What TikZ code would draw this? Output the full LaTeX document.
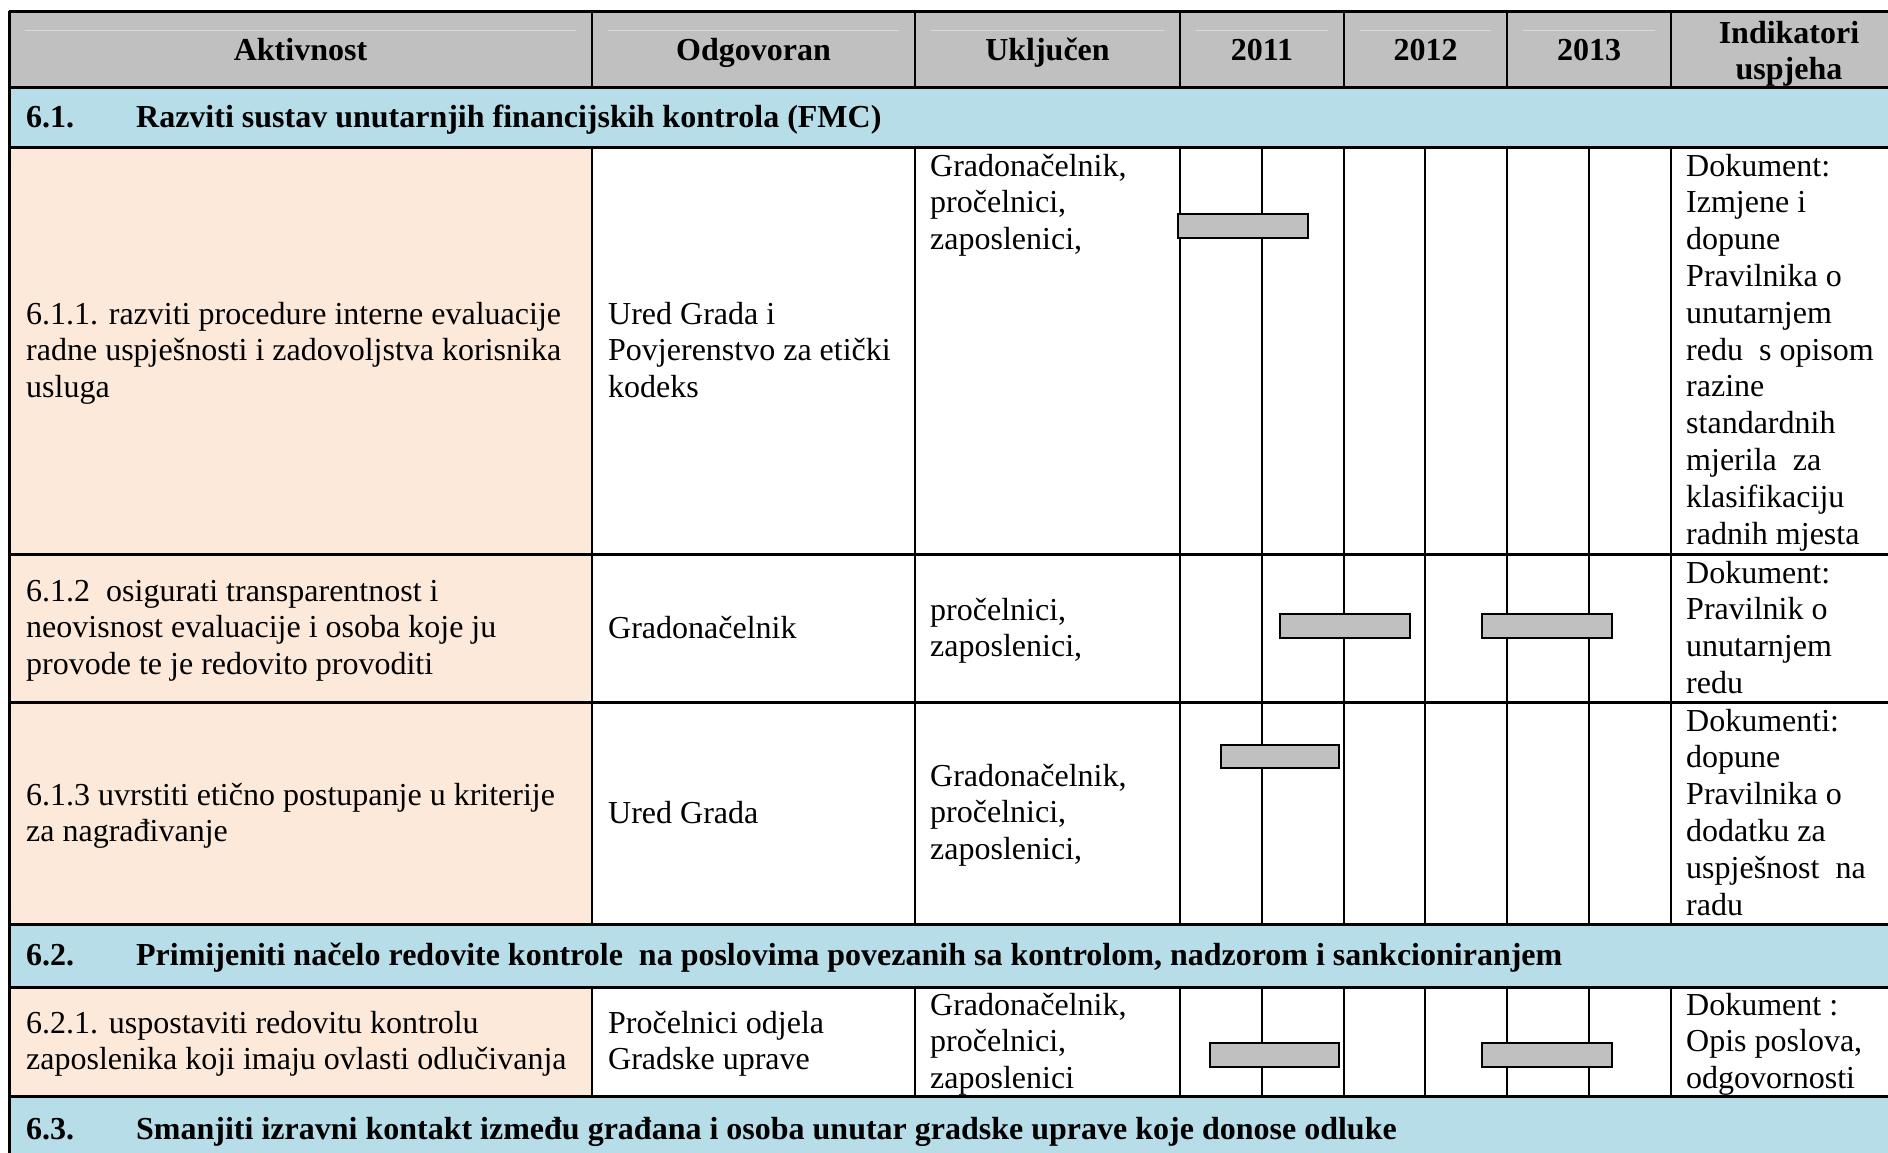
\documentclass[tikz,border=0pt]{standalone}
\usepackage{fontspec}
\setmainfont{Liberation Serif}
\definecolor{hdrfill}{HTML}{C0C0C0}
\definecolor{hdrline}{HTML}{DADADA}
\definecolor{secfill}{HTML}{B7DDE8}
\definecolor{actfill}{HTML}{FDE9D9}
\definecolor{barfill}{HTML}{C0C0C0}
\newcommand{\celltxt}[1]{\begin{tabular}[t]{@{}l@{}}#1\end{tabular}}
\newcommand{\ctrtxt}[1]{\begin{tabular}[t]{@{}c@{}}#1\end{tabular}}
\tikzset{
  txt/.style={inner sep=0pt, anchor=base west, font=\fontsize{32}{36.8}\selectfont},
  hdrtxt/.style={inner sep=0pt, anchor=base, font=\fontsize{32}{36.8}\selectfont\bfseries},
  sectxt/.style={inner sep=0pt, anchor=base west, font=\fontsize{32}{36.8}\selectfont\bfseries},
  hline/.style={line width=3pt, black},
  vline/.style={line width=2.2pt, black},
  faint/.style={line width=1pt, hdrline},
  ganttbar/.style={draw=black, line width=2pt, fill=barfill}
}
\begin{document}
\begin{tikzpicture}[x=1pt,y=-1pt]
\useasboundingbox (0,0) rectangle (1888,1152);
\clip (0,0) rectangle (1888,1152);
% fills
\fill[hdrfill] (9,11) rectangle (1905,87);
\fill[secfill] (9,87) rectangle (1905,147);
\fill[secfill] (9,924) rectangle (1905,987);
\fill[secfill] (9,1096) rectangle (1905,1170);
\fill[actfill] (9,147) rectangle (592,924);
\fill[actfill] (9,987) rectangle (592,1096);
% faint lines in header
\foreach \a/\b in {9/592,592/915,915/1180,1180/1344,1344/1507,1507/1671}
  \draw[faint] (\a+16,30) -- (\b-16,30);
% vertical lines
\draw[hline] (9,11) -- (9,1170);
\draw[hline] (1905,11) -- (1905,1170);
\foreach \x in {592,915,1180,1344,1507,1671}
  \draw[vline] (\x,11) -- (\x,87);
\foreach \x in {592,915,1180,1262,1344,1425,1507,1589,1671}{
  \draw[vline] (\x,147) -- (\x,924);
  \draw[vline] (\x,987) -- (\x,1096);
}
% horizontal lines
\foreach \y in {11,87,147,554,702,924,987,1096}
  \draw[hline] (9,\y) -- (1905,\y);
% gantt bars
\draw[ganttbar] (1178,214) rectangle (1308,238);
\draw[ganttbar] (1280,614) rectangle (1410,638);
\draw[ganttbar] (1482,614) rectangle (1612,638);
\draw[ganttbar] (1221,745) rectangle (1339,768);
\draw[ganttbar] (1210,1043) rectangle (1339,1067);
\draw[ganttbar] (1482,1043) rectangle (1612,1067);
% header
\node[hdrtxt] (hA) at (300.5,60) {Aktivnost};
\node[hdrtxt] (hO) at (753.5,60) {Odgovoran};
\node[hdrtxt] (hU) at (1047.5,60) {Uključen};
\node[hdrtxt] (h11) at (1262,60) {2011};
\node[hdrtxt] (h12) at (1425.5,60) {2012};
\node[hdrtxt] (h13) at (1589,60) {2013};
\node[hdrtxt] (hI) at (1789,43) {\ctrtxt{Indikatori\\uspjeha}};
% sections
\node[sectxt] (s61) at (26,127) {\makebox[110pt][l]{6.1.}Razviti sustav unutarnjih financijskih kontrola (FMC)};
\node[sectxt] (s62) at (26,965) {\makebox[110pt][l]{6.2.}Primijeniti načelo redovite kontrole~ na poslovima povezanih sa kontrolom, nadzorom i sankcioniranjem};
\node[sectxt] (s63) at (26,1139) {\makebox[110pt][l]{6.3.}Smanjiti izravni kontakt između građana i osoba unutar gradske uprave koje donose odluke};
% row 6.1.1
\node[txt] (a611) at (26,324) {\celltxt{6.1.1. razviti procedure interne evaluacije\\radne uspješnosti i zadovoljstva korisnika\\usluga}};
\node[txt] (o611) at (608,324) {\celltxt{Ured Grada i\\Povjerenstvo za etički\\kodeks}};
\node[txt] (u611) at (930,176) {\celltxt{Gradonačelnik,\\pročelnici,\\zaposlenici,}};
\node[txt] (i611) at (1686,176) {\celltxt{Dokument:\\Izmjene i\\dopune\\Pravilnika o\\unutarnjem\\redu~ s opisom\\razine\\standardnih\\mjerila~ za\\klasifikaciju\\radnih mjesta}};
% row 6.1.2
\node[txt] (a612) at (26,601) {\celltxt{6.1.2~ osigurati transparentnost i\\neovisnost evaluacije i osoba koje ju\\provode te je redovito provoditi}};
\node[txt] (o612) at (608,638) {Gradonačelnik};
\node[txt] (u612) at (930,620) {\celltxt{pročelnici,\\zaposlenici,}};
\node[txt] (i612) at (1686,583) {\celltxt{Dokument:\\Pravilnik o\\unutarnjem\\redu}};
% row 6.1.3
\node[txt] (a613) at (26,805) {\celltxt{6.1.3 uvrstiti etično postupanje u kriterije\\za nagrađivanje}};
\node[txt] (o613) at (608,823) {Ured Grada};
\node[txt] (u613) at (930,786) {\celltxt{Gradonačelnik,\\pročelnici,\\zaposlenici,}};
\node[txt] (i613) at (1686,731) {\celltxt{Dokumenti:\\dopune\\Pravilnika o\\dodatku za\\uspješnost~ na\\radu}};
% row 6.2.1
\node[txt] (a621) at (26,1033) {\celltxt{6.2.1. uspostaviti redovitu kontrolu\\zaposlenika koji imaju ovlasti odlučivanja}};
\node[txt] (o621) at (608,1033) {\celltxt{Pročelnici odjela\\Gradske uprave}};
\node[txt] (u621) at (930,1015) {\celltxt{Gradonačelnik,\\pročelnici,\\zaposlenici}};
\node[txt] (i621) at (1686,1015) {\celltxt{Dokument :\\Opis poslova,\\odgovornosti}};
\end{tikzpicture}
\end{document}
